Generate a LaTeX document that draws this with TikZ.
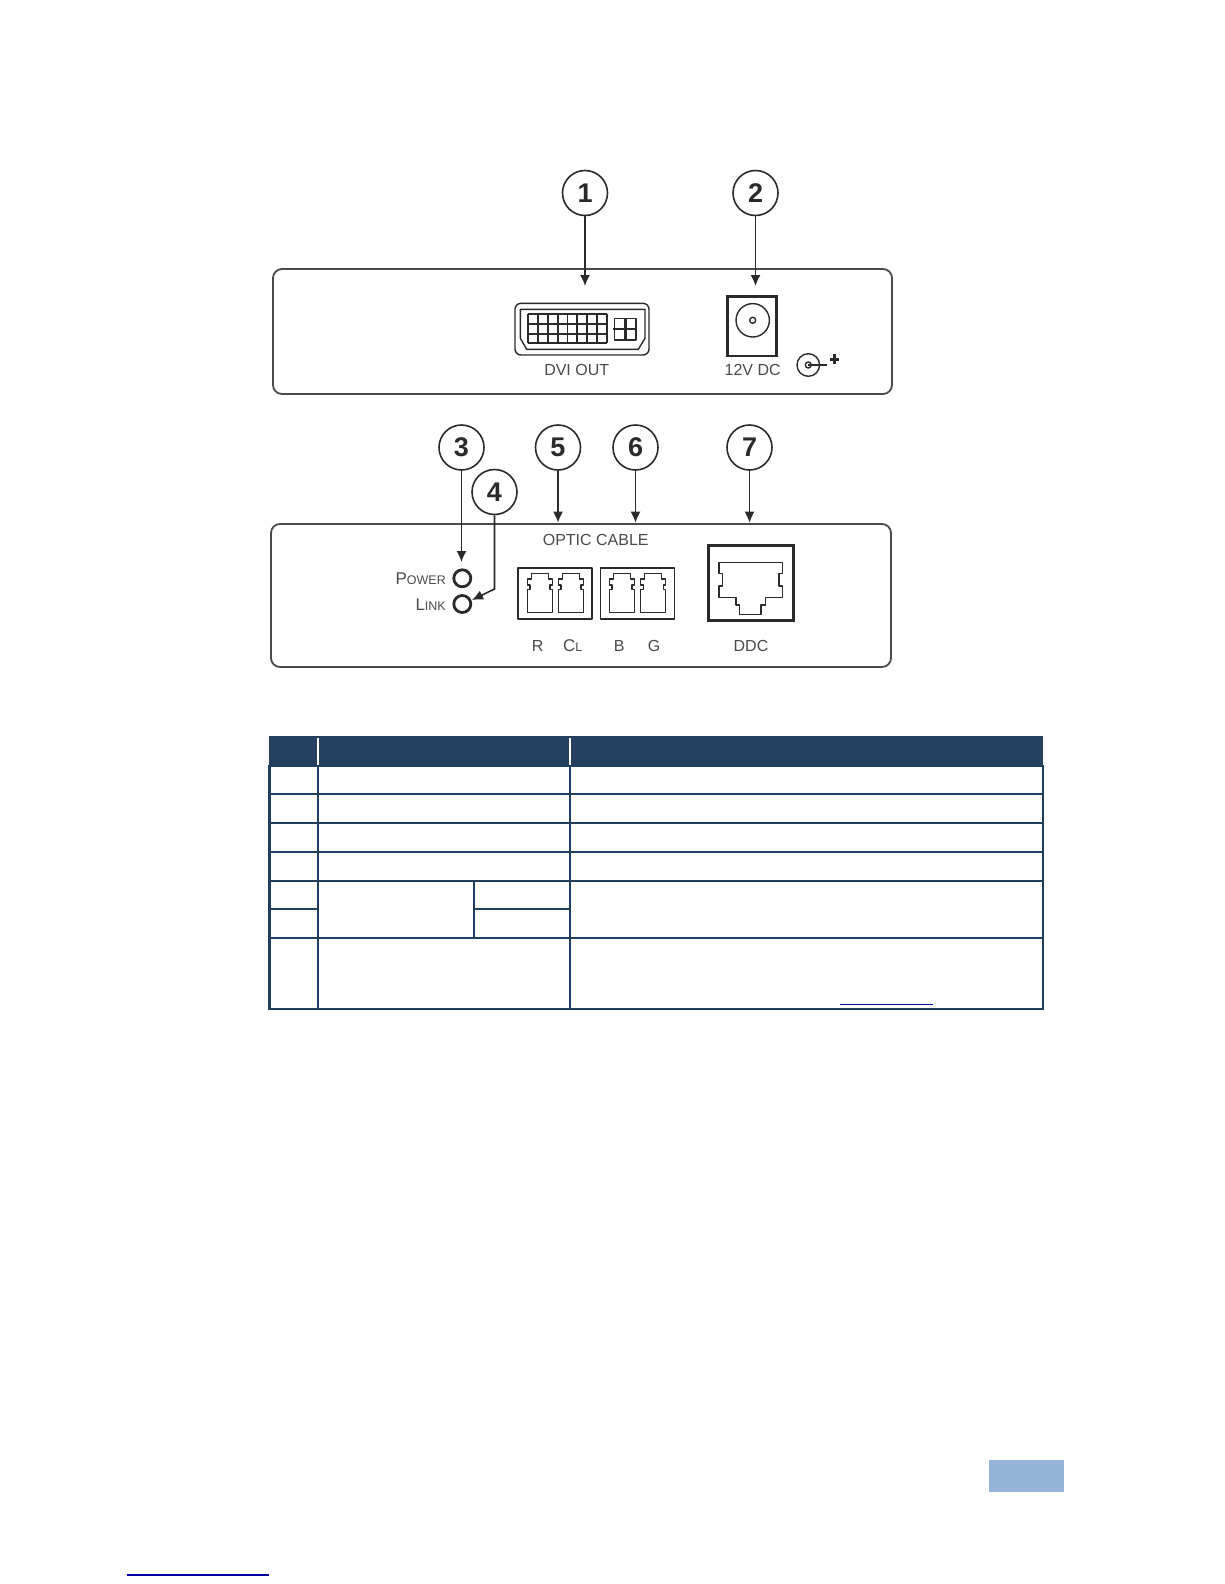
\documentclass[tikz,border=0pt]{standalone}
\usepackage{fontspec}
\setmainfont{Liberation Sans}
\usepackage{xcolor}
\usetikzlibrary{calc,arrows.meta}
\definecolor{ink}{HTML}{2A2A2A}
\definecolor{muted}{HTML}{4A4A4A}
\definecolor{tablenavy}{HTML}{1F3F60}
\definecolor{headnavy}{HTML}{25405F}
\definecolor{linkblue}{HTML}{0000A0}
\definecolor{tabblue}{HTML}{95B3D7}
\newcommand{\bigsmall}[2]{{\fontsize{17}{18}\selectfont #1\fontsize{12.5}{14}\selectfont #2}}
\tikzset{
  panel/.style={draw=muted, line width=1.8pt, rounded corners=9pt},
  part/.style={draw=ink, line width=1.4pt, line join=round},
  heavy/.style={draw=ink, line width=2.8pt},
  num/.style={circle, draw=ink, fill=white, line width=1.6pt, minimum size=45pt, inner sep=0pt,
    font=\fontsize{27}{29}\selectfont\bfseries, text=ink},
  lead/.style={draw=ink, line width=1.6pt, -{Latex[length=11pt,width=10pt]}},
  tag/.style={font=\fontsize{16}{18}\selectfont, text=muted, inner sep=0pt},
  led/.style={circle, draw=ink, line width=2.8pt, minimum size=17pt, inner sep=0pt},
  grid/.style={draw=tablenavy, line width=2.2pt},
  lcport/.pic={
    \draw[part] (0,39.3) -- (25,39.3) -- (25,16) -- (22.5,16) -- (22.5,11.5) -- (25,11.5) -- (25,5.7)
      -- (21,5.7) -- (21,0) -- (4,0) -- (4,5.7) -- (0,5.7) -- (0,11.5) -- (2.5,11.5) -- (2.5,16) -- (0,16) -- cycle;
  }
}
\begin{document}
\begin{tikzpicture}[x=1pt,y=-1pt]
  \useasboundingbox (0,0) rectangle (1224,1584);
  \fill[white] (0,0) rectangle (1224,1584);

  % panels
  \draw[panel] (273,269) rectangle (892,394);
  \draw[panel] (271,524) rectangle (891,667);

  % DVI connector
  \draw[part, rounded corners=6pt] (515,303.3) rectangle (649,355);
  \draw[part] (520.3,309.3) -- (645,309.3) -- (645,338.3) -- (638.3,349.3) -- (526.7,349.3) -- (520.3,338.3) -- cycle;
  \foreach \col in {0,...,8}
    \draw[ink, line width=1.9pt] ({528.3+\col*9.8},314.3) -- ({528.3+\col*9.8},343.3);
  \foreach \row in {0,...,3}
    \draw[ink, line width=1.9pt] (528.3,{314.3+\row*9.67}) -- (606.7,{314.3+\row*9.67});
  \draw[part] (614.3,318.3) rectangle (636,340);
  \draw[heavy] (612.7,329) -- (637.3,329);
  \draw[heavy] (625.7,317.5) -- (625.7,340.5);
  \node[tag] (dvi) at (576.7,370) {DVI OUT};

  % power jack
  \draw[heavy] (727.7,296.7) rectangle (776.7,356);
  \draw[part] (752.7,320.3) circle (16.7);
  \draw[part] (752.7,320.3) circle (3);
  \node[tag] (dc) at (752.7,370) {12V DC};
  \draw[part] (808.3,365) circle (11.3);
  \draw[part] (808.3,365) circle (3);
  \draw[part] (808.3,365) -- (826.7,365);
  \draw[ink, line width=3pt] (829.5,359) -- (838.9,359);
  \draw[ink, line width=3pt] (834.2,354.3) -- (834.2,363.7);

  % LEDs
  \node[led] (power) at (462.3,578.3) {};
  \node[led] (link) at (462.3,604) {};
  \node[tag, anchor=east] (powertxt) at (446,578.3) {\bigsmall{P}{OWER}};
  \node[tag, anchor=east] (linktxt) at (446,604.5) {\bigsmall{L}{INK}};

  % optic ports
  \node[tag] (optic) at (595.7,540) {OPTIC CABLE};
  \draw[part] (518,568) rectangle (592,619);
  \draw[part] (600.3,568) rectangle (674.7,619);
  \foreach \px in {527.6,558.3,609.3,640.7}
    \pic at (\px,573.3) {lcport};
  \node[tag] (r) at (537.7,645.7) {R};
  \node[tag] (cl) at (572.7,645.7) {\bigsmall{C}{L}};
  \node[tag] (b) at (619.3,645.7) {B};
  \node[tag] (g) at (654,645.7) {G};

  % DDC jack
  \draw[ink, line width=3pt] (708.3,545) rectangle (793.3,620);
  \draw[part] (719,562.7) -- (782.7,562.7) -- (782.7,573.3) -- (779,573.3) -- (779,586) -- (782.7,586) -- (782.7,597.7)
    -- (765.7,597.7) -- (765.7,605) -- (761,605) -- (761,614.3) -- (739.3,614.3) -- (739.3,605) -- (736,605) -- (736,597.7)
    -- (719,597.7) -- (719,586) -- (722.3,586) -- (722.3,573.3) -- (719,573.3) -- cycle;
  \node[tag] (ddc) at (751,645.7) {DDC};

  % callouts
  \node[num] (num1) at (585,193) {1};
  \node[num] (num2) at (755.5,193) {2};
  \node[num] (num3) at (461.5,447.5) {3};
  \node[num] (num5) at (558,447.5) {5};
  \node[num] (num6) at (635.5,447.5) {6};
  \node[num] (num7) at (749.5,447.5) {7};
  \node[num] (num4) at (494.5,492) {4};

  \coordinate (tip1) at (585,286);
  \coordinate (tip2) at (755.5,286);
  \coordinate (tip3) at (461.5,562);
  \coordinate (tip5) at (558,522.7);
  \coordinate (tip6) at (635.5,522.7);
  \coordinate (tip7) at (749.5,522.7);
  \coordinate (bend4) at (494.5,589);
  \coordinate (tip4) at (472,600);
  \foreach \n in {1,2,3,5,6,7}
    \draw[lead] (num\n) -- (tip\n);
  \draw[lead] (num4) -- (bend4) -- (tip4);

  % table
  \fill[headnavy] (268.5,736) rectangle (1043,766);
  \draw[white, line width=1.6pt] (318.2,738) -- (318.2,765);
  \draw[white, line width=1.6pt] (570,738) -- (570,765);
  \draw[grid] (269.5,766) rectangle (1043,1009.3);
  \foreach \ry in {793.7,822.7,851.7,880.7,937.7}
    \draw[grid] (269.5,\ry) -- (1043,\ry);
  \draw[grid] (318.2,766) -- (318.2,1009.3);
  \draw[grid] (570,766) -- (570,1009.3);
  \draw[grid] (474,880.7) -- (474,937.7);
  \draw[grid] (269.5,908.7) -- (318.2,908.7);
  \draw[grid] (474,908.7) -- (570,908.7);
  \draw[linkblue, line width=1.6pt] (840,1004.3) -- (933,1004.3);

  % footer
  \fill[tabblue] (989,1460) rectangle (1064,1492);
  \draw[linkblue, line width=1.6pt] (127,1575) -- (269,1575);
\end{tikzpicture}
\end{document}
